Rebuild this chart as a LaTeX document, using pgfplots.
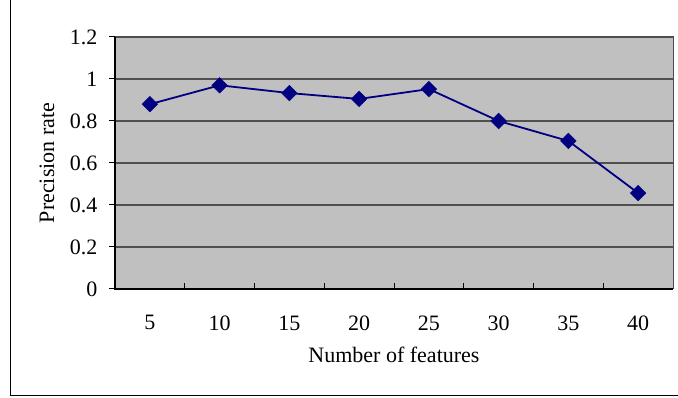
\documentclass[border=0pt]{standalone}
\usepackage{pgfplots}
\pgfplotsset{compat=1.18}
\usepackage{fontspec}
\setmainfont{Liberation Serif}
\definecolor{plotgray}{HTML}{C0C0C0}
\definecolor{navyline}{HTML}{000080}
\definecolor{gridc}{HTML}{505050}
\begin{document}
\fontsize{22}{26}\selectfont
\begin{tikzpicture}[x=1pt,y=1pt]
\path[use as bounding box] (0,0) rectangle (678,398);
\draw[line width=1.5pt] (10.5,398) -- (10.5,2.5) -- (678,2.5);
\begin{axis}[
  at={(115pt,109pt)}, anchor=south west,
  scale only axis, width=558pt, height=252pt,
  xmin=0.5, xmax=8.5, ymin=0, ymax=1.2,
  /pgf/number format/assume math mode=true,
  xtick pos=bottom, ytick pos=left,
  xtick={1,2,3,4,5,6,7,8},
  xticklabels={5,10,15,20,25,30,35,40},
  major x tick style={draw=none},
  minor xtick={1.5,2.5,3.5,4.5,5.5,6.5,7.5},
  minor x tick style={draw=black, line width=1pt, yshift=6pt},
  minor tick length=6pt,
  major tick length=6pt,
  tick align=outside,
  ytick={0,0.2,0.4,0.6,0.8,1,1.2},
  yticklabels={0,0.2,0.4,0.6,0.8,1,1.2},
  major y tick style={draw=black, line width=1pt},
  xticklabel shift=13pt,
  yticklabel shift=4pt,
  ymajorgrids,
  major grid style={draw=gridc, line width=1.3pt},
  axis line style={draw=gray!60!black, line width=1pt},
  axis background/.style={fill=plotgray},
  tick label style={font=\fontsize{22}{26}\selectfont},
  xlabel={Number of features},
  ylabel={Precision rate},
  every axis x label/.style={at={(axis description cs:0.5,0)}, yshift=-66pt, anchor=center, font=\fontsize{22}{26}\selectfont},
  every axis y label/.style={at={(axis description cs:0,0.5)}, xshift=-68pt, rotate=90, anchor=center, font=\fontsize{22}{26}\selectfont},
  clip=false,
  after end axis/.code={
    \draw[black, line width=1.5pt] (rel axis cs:0,1) -- (rel axis cs:0,0) -- (rel axis cs:1,0);
  },
]
\addplot[color=navyline, line width=1.8pt, mark=square*, mark size=5.5pt,
  mark options={rotate=45, fill=navyline, draw=navyline, line width=0.5pt}]
  coordinates {(1,0.88)(2,0.97)(3,0.933)(4,0.905)(5,0.952)(6,0.80)(7,0.705)(8,0.457)};
\end{axis}
\end{tikzpicture}
\end{document}
